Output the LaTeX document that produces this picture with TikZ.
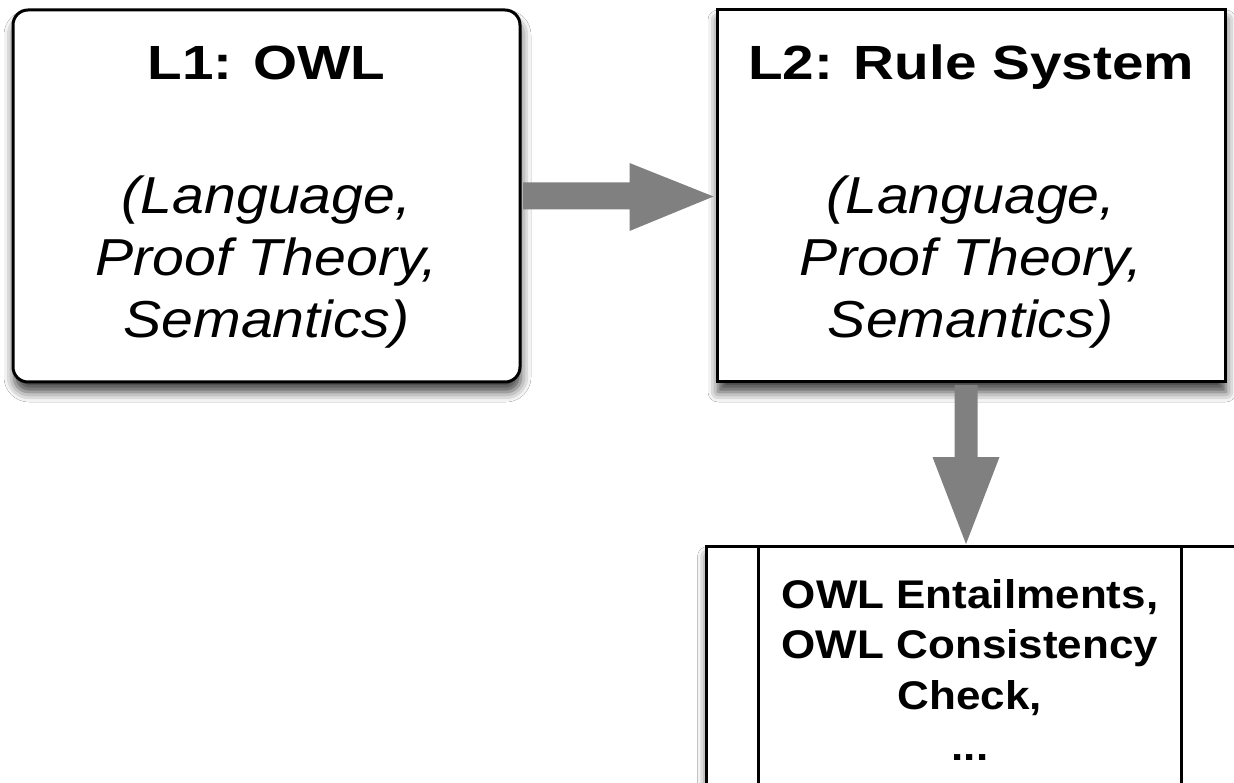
\documentclass[tikz,border=0pt]{standalone}
\usepackage{fontspec}
\newfontfamily\hvt[FakeStretch=1.18]{Liberation Sans}
\newfontfamily\hvs[FakeStretch=1.1]{Liberation Sans}
\newfontfamily\hvr[FakeStretch=1.1]{Liberation Sans}
\usetikzlibrary{calc,shadows.blur}
\definecolor{arrowgray}{HTML}{808080}
\begin{document}
\begin{tikzpicture}[x=1pt,y=1pt,
  box/.style={draw=black, line width=3pt, fill=white, inner sep=0pt,
    blur shadow={shadow xshift=1pt, shadow yshift=-10pt, shadow blur radius=10pt, shadow opacity=75}},
  ttl/.style={font=\hvt\bfseries\fontsize{48}{56}\selectfont, anchor=base, inner sep=0pt},
  sub/.style={font=\hvs\itshape\fontsize{52}{62}\selectfont, anchor=base, inner sep=0pt},
  res/.style={font=\hvr\bfseries\fontsize{40}{50}\selectfont, anchor=base, inner sep=0pt},
  arr/.style={fill=arrowgray, draw=none}]
\useasboundingbox (0,0) rectangle (1234,-783);
\clip (0,0) rectangle (1234,-783);
\fill[white] (0,0) rectangle (1234,-783);

% boxes
\node[box, rounded corners=15pt, minimum width=507pt, minimum height=372pt] (l1) at (266.5,-196) {};
\node[box, minimum width=508pt, minimum height=372pt] (l2) at (971,-196) {};
\node[box, minimum width=600pt, minimum height=320pt, anchor=north west] (res) at (705,-545) {};
\coordinate (ilt) at (758,-545);
\coordinate (ilb) at (758,-800);
\coordinate (irt) at (1181,-545);
\coordinate (irb) at (1181,-800);
\draw[line width=3pt] (ilt) -- (ilb);
\draw[line width=3pt] (irt) -- (irb);

% texts L1
\node[ttl] (l1t) at (266.5,-80) {L1: OWL};
\node[sub] (l1a) at (266.5,-214) {(Language,};
\node[sub] (l1b) at (266.5,-276) {Proof Theory,};
\node[sub] (l1c) at (266.5,-338) {Semantics)};
% texts L2
\node[ttl] (l2t) at (971,-80) {L2: Rule System};
\node[sub] (l2a) at (971,-214) {(Language,};
\node[sub] (l2b) at (971,-276) {Proof Theory,};
\node[sub] (l2c) at (971,-338) {Semantics)};
% result texts
\node[res] (r1) at (970,-608) {OWL Entailments,};
\node[res] (r2) at (970,-658) {OWL Consistency};
\node[res] (r3) at (970,-709) {Check,};
\node[res] (r4) at (970,-760) {...};

% horizontal arrow L1 -> L2
\fill[arr] ($(l1.east)+(1.5,13.5)$) -- ($(l1.east)+(108,13.5)$) -- ($(l1.east)+(108,33)$)
  -- ($(l2.west)+(-2,-0.5)$) -- ($(l1.east)+(108,-35)$) -- ($(l1.east)+(108,-13.5)$)
  -- ($(l1.east)+(1.5,-13.5)$) -- cycle;
% vertical arrow L2 -> result
\coordinate (vs) at ($(l2.south)+(-5,-1.5)$);
\coordinate (vt) at ($(res.north west)+(261,1)$);
\fill[arr] ($(vs)+(-11.5,0)$) -- ($(vs)+(11.5,0)$) -- ($(vs)+(11.5,-72)$) -- ($(vs)+(33.5,-72)$)
  -- (vt) -- ($(vs)+(-33.5,-72)$) -- ($(vs)+(-11.5,-72)$) -- cycle;
\end{tikzpicture}
\end{document}
